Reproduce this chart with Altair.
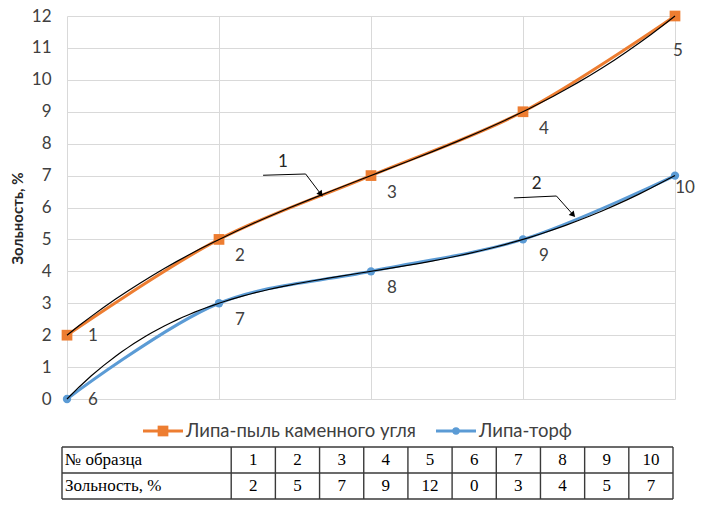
import altair as alt
import pandas as pd

# ---------------- data ----------------
series_names = ["Липа-пыль каменного угля", "Липа-торф"]
series_colors = ["#ED7D31", "#5B9BD5"]
positions = [1, 2, 3, 4, 5]
coal_samples = [1, 2, 3, 4, 5]
coal_ash = [2, 5, 7, 9, 12]
peat_samples = [6, 7, 8, 9, 10]
peat_ash = [0, 3, 4, 5, 7]
y_ticks = list(range(0, 13))

table_header = "№ образца"
table_row_title = "Зольность, %"
y_title = "Зольность, %"

# annotation callouts ("1" and "2" with arrows), in data units
ann_text = ["1", "2"]
ann_text_x = [2.42, 4.09]
ann_text_y = [7.42, 6.73]
ann_path_id = [1, 1, 1, 2, 2, 2]
ann_path_x = [2.29, 2.57, 2.67, 3.94, 4.22, 4.33]
ann_path_y = [7.01, 7.05, 6.42, 6.30, 6.36, 5.77]
arrow_angle = [142, 138]

# legend entry start offsets (px from the plot's left edge)
legend_x = [76, 369]

# ---------------- frames ----------------
rows = []
for name, samples, ash in [(series_names[0], coal_samples, coal_ash),
                           (series_names[1], peat_samples, peat_ash)]:
    for p, s, a in zip(positions, samples, ash):
        rows.append({"series": name, "pos": p, "ash": a, "sample": str(s)})
df = pd.DataFrame(rows)

FONT = "Lato"
TXT = "#404040"
GRID = "#d9d9d9"
W, H = 608, 383

xenc = alt.X("pos:Q", scale=alt.Scale(domain=[1, 5], nice=False, zero=False),
             axis=alt.Axis(values=positions, labels=False, ticks=False, domain=False,
                           grid=True, gridColor=GRID, title=None))
yenc = alt.Y("ash:Q", scale=alt.Scale(domain=[0, 12], nice=False),
             axis=alt.Axis(values=y_ticks, title=y_title, ticks=False, domain=False,
                           grid=True, gridColor=GRID, labelPadding=16, titlePadding=6,
                           titleY=202,
                           labelOverlap=False, labelFlush=False,
                           labelFont=FONT, labelFontSize=17, labelColor=TXT,
                           titleFont=FONT, titleFontSize=15, titleFontWeight="bold",
                           titleColor="#262626"))
color = alt.Color("series:N", scale=alt.Scale(domain=series_names, range=series_colors),
                  legend=None)

base = alt.Chart(df).encode(x=xenc, y=yenc)

lines = base.mark_line(interpolate="catmull-rom", strokeWidth=3).encode(color=color)
squares = base.transform_filter(alt.datum.series == series_names[0]).mark_square(
    size=115, opacity=1).encode(color=color)
circles = base.transform_filter(alt.datum.series == series_names[1]).mark_circle(
    size=70, opacity=1).encode(color=color)
trend = base.transform_regression("pos", "ash", groupby=["series"], method="poly",
                                  order=4).mark_line(color="black", strokeWidth=1.2).encode(
    detail="series:N")

lab = dict(font=FONT, fontSize=17, color=TXT)
lab_first = base.transform_filter(alt.datum.pos == 1).mark_text(dx=26, dy=1, **lab).encode(
    text="sample:N")
lab_mid = base.transform_filter((alt.datum.pos > 1) & (alt.datum.pos < 5)).mark_text(
    dx=21, dy=17, **lab).encode(text="sample:N")
lab_last_a = base.transform_filter((alt.datum.pos == 5) & (alt.datum.series == series_names[0])
                                   ).mark_text(dx=3, dy=35, **lab).encode(text="sample:N")
lab_last_b = base.transform_filter((alt.datum.pos == 5) & (alt.datum.series == series_names[1])
                                   ).mark_text(dx=10, dy=12, **lab).encode(text="sample:N")

ann_df = pd.DataFrame({"t": ann_text, "pos": ann_text_x, "ash": ann_text_y})
path_df = pd.DataFrame({"id": ann_path_id, "pos": ann_path_x, "ash": ann_path_y,
                        "o": list(range(len(ann_path_x)))})
tip_df = path_df.groupby("id").tail(1).reset_index(drop=True)
tip_df["angle"] = arrow_angle

ann_text_layer = alt.Chart(ann_df).mark_text(font=FONT, fontSize=17, color="#262626").encode(
    x=xenc, y=yenc, text="t:N")
ann_lines = alt.Chart(path_df).mark_line(color="black", strokeWidth=1).encode(
    x=xenc, y=yenc, detail="id:N", order="o:Q")
ann_tips = alt.Chart(tip_df).mark_point(shape="triangle-up", filled=True, color="black",
                                        size=45, opacity=1).encode(
    x=xenc, y=yenc, angle=alt.Angle("angle:Q", scale=None))

top = alt.layer(lines, squares, circles, trend, lab_first, lab_mid, lab_last_a, lab_last_b,
                ann_lines, ann_tips, ann_text_layer).properties(width=W, height=H)

# ---------------- legend (line + marker + label) ----------------
LH, LY = 30, 19
leg_df = pd.DataFrame({"series": series_names, "lx": legend_x})
lx_scale = alt.Scale(domain=[0, W], nice=False, zero=False)
leg_base = alt.Chart(leg_df).transform_calculate(
    x1="datum.lx + 40", xm="datum.lx + 20", xt="datum.lx + 43")
leg_color = alt.Color("series:N", scale=alt.Scale(domain=series_names, range=series_colors),
                      legend=None)
leg_lines = leg_base.mark_rule(strokeWidth=3).encode(
    x=alt.X("lx:Q", scale=lx_scale, axis=None), x2="x1:Q", y=alt.value(LY), color=leg_color)
leg_sq = leg_base.transform_filter(alt.datum.series == series_names[0]).mark_square(
    size=115, opacity=1).encode(x=alt.X("xm:Q", scale=lx_scale, axis=None), y=alt.value(LY),
                                color=leg_color)
leg_ci = leg_base.transform_filter(alt.datum.series == series_names[1]).mark_circle(
    size=55, opacity=1).encode(x=alt.X("xm:Q", scale=lx_scale, axis=None), y=alt.value(LY),
                               color=leg_color)
leg_txt = leg_base.mark_text(align="left", font=FONT, fontSize=18.5, color=TXT).encode(
    x=alt.X("xt:Q", scale=lx_scale, axis=None), y=alt.value(LY), text="series:N")
legend = alt.layer(leg_lines, leg_sq, leg_ci, leg_txt).properties(width=W, height=LH)

# ---------------- table ----------------
LABEL_COL = 3.83          # width of the first column in cell units
n_cols = len(coal_samples) + len(peat_samples)
unit_px = 611 / (LABEL_COL + n_cols)
shift = 5 / unit_px       # table starts 5px left of the plot
tx_scale = alt.Scale(domain=[shift, shift + W / unit_px], nice=False, zero=False)
ty_scale = alt.Scale(domain=[0, 2], nice=False, reverse=True)

all_samples = coal_samples + peat_samples
all_ash = coal_ash + peat_ash
cells = pd.DataFrame({
    "col": list(range(1, n_cols + 1)) * 2,
    "row": [0] * n_cols + [1] * n_cols,
    "txt": [str(s) for s in all_samples] + [str(a) for a in all_ash],
})
heads = pd.DataFrame({"row": [0, 1], "txt": [table_header, table_row_title]})
hlines = pd.DataFrame({"r": [0, 1, 2]})
vlines = pd.DataFrame({"k": list(range(-1, n_cols + 1))})

TF = "Liberation Serif, Times New Roman, serif"
TFS = 17
cell_text = alt.Chart(cells).transform_calculate(
    xc=f"{LABEL_COL} + datum.col - 0.5", yc="datum.row + 0.5").mark_text(
    font=TF, fontSize=TFS, color="black").encode(
    x=alt.X("xc:Q", scale=tx_scale, axis=None), y=alt.Y("yc:Q", scale=ty_scale, axis=None),
    text="txt:N")
head_text = alt.Chart(heads).transform_calculate(xc="0", yc="datum.row + 0.5").mark_text(
    font=TF, fontSize=TFS, color="black", align="left", dx=3).encode(
    x=alt.X("xc:Q", scale=tx_scale, axis=None), y=alt.Y("yc:Q", scale=ty_scale, axis=None),
    text="txt:N")
h_rules = alt.Chart(hlines).transform_calculate(
    x0="0", x1=f"{LABEL_COL} + {n_cols}").mark_rule(color="#3a3a3a", strokeWidth=1.4).encode(
    x=alt.X("x0:Q", scale=tx_scale, axis=None), x2="x1:Q",
    y=alt.Y("r:Q", scale=ty_scale, axis=None))
v_rules = alt.Chart(vlines).transform_calculate(
    b=f"datum.k < 0 ? 0 : {LABEL_COL} + datum.k", y0="0", y1="2").mark_rule(
    color="#3a3a3a", strokeWidth=1.4).encode(
    x=alt.X("b:Q", scale=tx_scale, axis=None),
    y=alt.Y("y0:Q", scale=ty_scale, axis=None), y2="y1:Q")

table = alt.layer(h_rules, v_rules, head_text, cell_text).properties(width=W, height=52)

chart = alt.vconcat(top, legend, table, spacing=4).properties(
    padding={"left": 2, "top": -1, "right": 0, "bottom": 0},
    background="white",
).configure_view(stroke=None)

chart.save("out.html", embed_options={"renderer": "svg", "actions": False})
